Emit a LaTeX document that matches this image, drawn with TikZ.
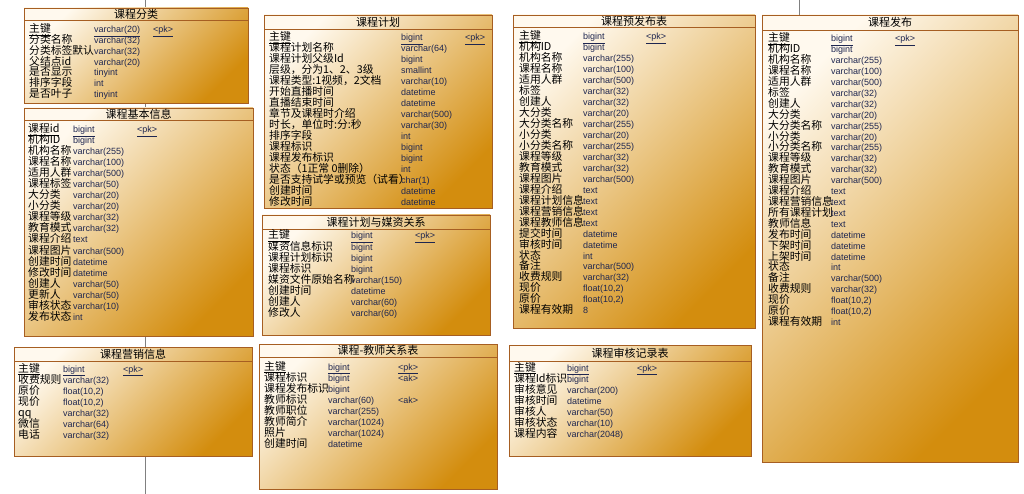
\documentclass[tikz,border=0pt]{standalone}
\usepackage{fontspec}
\setmainfont{Liberation Sans}
\newfontfamily\cjk{Noto Sans CJK SC}
\usetikzlibrary{positioning}
\definecolor{erlight}{HTML}{FFF9EE}
\definecolor{erdark}{HTML}{D38D0E}
\definecolor{erline}{HTML}{A65E22}
\definecolor{ertype}{HTML}{1E2650}

\begin{document}
\begin{tikzpicture}[x=1pt, y=-1pt,
    tbl/.style={draw=erline, line width=0.8pt, top color=erlight, bottom color=erdark, shading angle=45, anchor=north west, inner sep=0pt, outer sep=0pt},
    sep/.style={draw=erline, line width=0.8pt},
    ttl/.style={font=\cjk\fontsize{11}{11}\selectfont, inner sep=0pt},
    fld/.style={font=\cjk\fontsize{10.8}{11}\selectfont, anchor=base west, yshift=-4pt, inner sep=0pt},
    typ/.style={font=\fontsize{9}{10}\selectfont, text=ertype, anchor=base west, yshift=-4pt, inner sep=0pt},
    link/.style={draw=gray, line width=0.6pt}]
  \useasboundingbox (0,0) rectangle (1024,494);
  \coordinate (ltop) at (145,0);
  \coordinate (lbot) at (145,494);
  \coordinate (rtop) at (799,0);
  \draw[link] (ltop) -- (lbot);

  \node[tbl, minimum width=224, minimum height=95] (fenlei) at (24,8) {};
  \draw[sep] (24,20) -- (248,20);
  \node[ttl] (fenlei-h) at (136,14) {课程分类};
  \node[fld] (fenlei-n1) at (29,29) {\underline{主键}};
  \node[typ] (fenlei-t1) at (94,29) {\underline{varchar(20)}};
  \node[typ] (fenlei-k1) at (153,29) {\underline{<pk>}};
  \foreach \n/\t [count=\i from 2] in {分类名称/varchar(32), 分类标签默认/varchar(32), 父结点id/varchar(20), 是否显示/tinyint, 排序字段/int, 是否叶子/tinyint}
    {\node[fld] (fenlei-n\i) at (29,{29+(\i-1)*10.7}) {\n};
     \node[typ] (fenlei-t\i) at (94,{29+(\i-1)*10.7}) {\t};}

  \node[tbl, minimum width=229, minimum height=228] (jiben) at (24,108) {};
  \draw[sep] (24,120) -- (253,120);
  \node[ttl] (jiben-h) at (138.5,114) {课程基本信息};
  \node[fld] (jiben-n1) at (28,129) {\underline{课程id}};
  \node[typ] (jiben-t1) at (73,129) {\underline{bigint}};
  \node[typ] (jiben-k1) at (137,129) {\underline{<pk>}};
  \foreach \n/\t [count=\i from 2] in {机构ID/bigint, 机构名称/varchar(255), 课程名称/varchar(100), 适用人群/varchar(500), 课程标签/varchar(50), 大分类/varchar(20), 小分类/varchar(20), 课程等级/varchar(32), 教育模式/varchar(32), 课程介绍/text, 课程图片/varchar(500), 创建时间/datetime, 修改时间/datetime, 创建人/varchar(50), 更新人/varchar(50), 审核状态/varchar(10), 发布状态/int}
    {\node[fld] (jiben-n\i) at (28,{129+(\i-1)*11}) {\n};
     \node[typ] (jiben-t\i) at (73,{129+(\i-1)*11}) {\t};}

  \node[tbl, minimum width=238, minimum height=109] (yingxiao) at (14,347) {};
  \draw[sep] (14,361) -- (252,361);
  \node[ttl] (yingxiao-h) at (133,354) {课程营销信息};
  \node[fld] (yingxiao-n1) at (18,368) {\underline{主键}};
  \node[typ] (yingxiao-t1) at (63,368) {\underline{bigint}};
  \node[typ] (yingxiao-k1) at (123,368) {\underline{<pk>}};
  \foreach \n/\t [count=\i from 2] in {收费规则/varchar(32), 原价/{float(10,2)}, 现价/{float(10,2)}, qq/varchar(32), 微信/varchar(64), 电话/varchar(32)}
    {\node[fld] (yingxiao-n\i) at (18,{368+(\i-1)*11}) {\n};
     \node[typ] (yingxiao-t\i) at (63,{368+(\i-1)*11}) {\t};}

  \node[tbl, minimum width=228, minimum height=193] (jihua) at (264,15) {};
  \draw[sep] (264,29) -- (492,29);
  \node[ttl] (jihua-h) at (378,22) {课程计划};
  \node[fld] (jihua-n1) at (269,37) {\underline{主键}};
  \node[typ] (jihua-t1) at (401,37) {\underline{bigint}};
  \node[typ] (jihua-k1) at (465,37) {\underline{<pk>}};
  \foreach \n/\t [count=\i from 2] in {课程计划名称/varchar(64), 课程计划父级Id/bigint, 层级，分为1、2、3级/smallint, 课程类型:1视频，2文档/varchar(10), 开始直播时间/datetime, 直播结束时间/datetime, 章节及课程时介绍/varchar(500), 时长，单位时:分:秒/varchar(30), 排序字段/int, 课程标识/bigint, 课程发布标识/bigint, 状态（1正常 0删除）/int, 是否支持试学或预览（试看）/char(1), 创建时间/datetime, 修改时间/datetime}
    {\node[fld] (jihua-n\i) at (269,{37+(\i-1)*11}) {\n};
     \node[typ] (jihua-t\i) at (401,{37+(\i-1)*11}) {\t};}

  \node[tbl, minimum width=228, minimum height=120] (meizi) at (262,215) {};
  \draw[sep] (262,229) -- (490,229);
  \node[ttl] (meizi-h) at (376,222) {课程计划与媒资关系};
  \node[fld] (meizi-n1) at (268,235) {\underline{主键}};
  \node[typ] (meizi-t1) at (351,235) {\underline{bigint}};
  \node[typ] (meizi-k1) at (415,235) {\underline{<pk>}};
  \foreach \n/\t [count=\i from 2] in {媒资信息标识/bigint, 课程计划标识/bigint, 课程标识/bigint, 媒资文件原始名称/varchar(150), 创建时间/datetime, 创建人/varchar(60), 修改人/varchar(60)}
    {\node[fld] (meizi-n\i) at (268,{235+(\i-1)*11.1}) {\n};
     \node[typ] (meizi-t\i) at (351,{235+(\i-1)*11.1}) {\t};}

  \node[tbl, minimum width=238, minimum height=145] (jiaoshi) at (259,344) {};
  \draw[sep] (259,357) -- (497,357);
  \node[ttl] (jiaoshi-h) at (378,350.5) {课程-教师关系表};
  \node[fld] (jiaoshi-n1) at (264,366) {\underline{主键}};
  \node[typ] (jiaoshi-t1) at (328,366) {\underline{bigint}};
  \node[typ] (jiaoshi-k1) at (398,366) {\underline{<pk>}};
  \foreach \n/\t [count=\i from 2] in {课程标识/bigint, 课程发布标识/bigint, 教师标识/varchar(60), 教师职位/varchar(255), 教师简介/varchar(1024), 照片/varchar(1024), 创建时间/datetime}
    {\node[fld] (jiaoshi-n\i) at (264,{366+(\i-1)*11}) {\n};
     \node[typ] (jiaoshi-t\i) at (328,{366+(\i-1)*11}) {\t};}
  \node[typ] (jiaoshi-k2) at (398,377) {<ak>};
  \node[typ] (jiaoshi-k4) at (398,399) {<ak>};

  \node[tbl, minimum width=242, minimum height=313] (yufabu) at (513,15) {};
  \draw[sep] (513,27) -- (755,27);
  \node[ttl] (yufabu-h) at (634,21) {课程预发布表};
  \node[fld] (yufabu-n1) at (519,36) {\underline{主键}};
  \node[typ] (yufabu-t1) at (583,36) {\underline{bigint}};
  \node[typ] (yufabu-k1) at (646,36) {\underline{<pk>}};
  \foreach \n/\t [count=\i from 2] in {机构ID/bigint, 机构名称/varchar(255), 课程名称/varchar(100), 适用人群/varchar(500), 标签/varchar(32), 创建人/varchar(32), 大分类/varchar(20), 大分类名称/varchar(255), 小分类/varchar(20), 小分类名称/varchar(255), 课程等级/varchar(32), 教育模式/varchar(32), 课程图片/varchar(500), 课程介绍/text, 课程计划信息/text, 课程营销信息/text, 课程教师信息/text, 提交时间/datetime, 审核时间/datetime, 状态/int, 备注/varchar(500), 收费规则/varchar(32), 现价/{float(10,2)}, 原价/{float(10,2)}, 课程有效期/8}
    {\node[fld] (yufabu-n\i) at (519,{36+(\i-1)*10.95}) {\n};
     \node[typ] (yufabu-t\i) at (583,{36+(\i-1)*10.95}) {\t};}

  \node[tbl, minimum width=242, minimum height=111] (shenhe) at (509,345) {};
  \draw[sep] (509,361) -- (751,361);
  \node[ttl] (shenhe-h) at (630,353) {课程审核记录表};
  \node[fld] (shenhe-n1) at (514,367) {\underline{主键}};
  \node[typ] (shenhe-t1) at (567,367) {\underline{bigint}};
  \node[typ] (shenhe-k1) at (637,367) {\underline{<pk>}};
  \foreach \n/\t [count=\i from 2] in {课程Id标识/bigint, 审核意见/varchar(200), 审核时间/datetime, 审核人/varchar(50), 审核状态/varchar(10), 课程内容/varchar(2048)}
    {\node[fld] (shenhe-n\i) at (514,{367+(\i-1)*11}) {\n};
     \node[typ] (shenhe-t\i) at (567,{367+(\i-1)*11}) {\t};}

  \node[tbl, minimum width=256, minimum height=447] (fabu) at (762,15) {};
  \draw[link] (rtop) -- (fabu.north -| rtop);
  \draw[sep] (762,30) -- (1018,30);
  \node[ttl] (fabu-h) at (890,22.5) {课程发布};
  \node[fld] (fabu-n1) at (768,38) {\underline{主键}};
  \node[typ] (fabu-t1) at (831,38) {\underline{bigint}};
  \node[typ] (fabu-k1) at (895,38) {\underline{<pk>}};
  \foreach \n/\t [count=\i from 2] in {机构ID/bigint, 机构名称/varchar(255), 课程名称/varchar(100), 适用人群/varchar(500), 标签/varchar(32), 创建人/varchar(32), 大分类/varchar(20), 大分类名称/varchar(255), 小分类/varchar(20), 小分类名称/varchar(255), 课程等级/varchar(32), 教育模式/varchar(32), 课程图片/varchar(500), 课程介绍/text, 课程营销信息/text, 所有课程计划/text, 教师信息/text, 发布时间/datetime, 下架时间/datetime, 上架时间/datetime, 状态/int, 备注/varchar(500), 收费规则/varchar(32), 现价/{float(10,2)}, 原价/{float(10,2)}, 课程有效期/int}
    {\node[fld] (fabu-n\i) at (768,{38+(\i-1)*10.9}) {\n};
     \node[typ] (fabu-t\i) at (831,{38+(\i-1)*10.9}) {\t};}
\end{tikzpicture}
\end{document}
